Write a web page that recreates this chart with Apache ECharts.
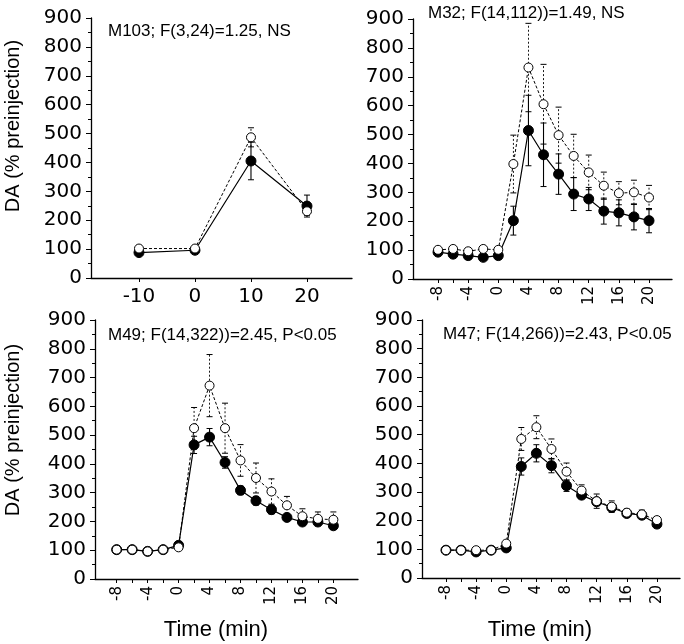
<!DOCTYPE html>
<html><head><meta charset="utf-8">
<script src="https://cdn.jsdelivr.net/npm/echarts@6/dist/echarts.min.js"></script>
<style>html,body{margin:0;padding:0;background:#fff}#c{width:684px;height:644px}</style>
</head><body><div id="c"></div>
<script>
// ---- data ----
const t103 = [-10, 0, 10, 20];
const m103Open = [102, 102, 487, 231];
const m103OpenErr = [6, 6, 33, 14];
const m103Filled = [88, 96, 405, 249];
const m103FilledErr = [5, 5, 65, 38];

const tMin = [-8, -6, -4, -2, 0, 2, 4, 6, 8, 10, 12, 14, 16, 18, 20];
const tickTimes = [-8, -6, -4, -2, 0, 2, 4, 6, 8, 10, 12, 14, 16, 18, 20];
const labelTimes = [-8, -4, 0, 4, 8, 12, 16, 20];
const label103 = [-10, 0, 10, 20];

const m32Open = [101, 104, 96, 104, 101, 398, 732, 605, 498, 426, 369, 323, 297, 300, 282];
const m32OpenErr = [8, 8, 8, 8, 8, 100, 153, 138, 97, 75, 60, 47, 40, 42, 42];
const m32Filled = [93, 86, 81, 75, 81, 202, 514, 430, 363, 294, 277, 235, 229, 215, 202];
const m32FilledErr = [8, 8, 8, 8, 8, 50, 122, 110, 70, 57, 40, 45, 45, 45, 42];

const m49Open = [102, 102, 96, 102, 110, 524, 672, 524, 412, 351, 304, 256, 218, 209, 206];
const m49OpenErr = [5, 5, 5, 5, 5, 72, 108, 87, 55, 52, 44, 31, 26, 24, 27];
const m49Filled = [102, 102, 96, 102, 117, 466, 493, 405, 308, 272, 241, 214, 198, 198, 185];
const m49FilledErr = [5, 5, 5, 5, 8, 30, 30, 20, 15, 15, 15, 10, 10, 10, 10];

const m47Open = [97, 97, 97, 97, 120, 485, 526, 450, 371, 305, 268, 249, 228, 222, 202];
const m47OpenErr = [4, 4, 4, 4, 6, 40, 40, 35, 30, 20, 25, 20, 12, 15, 12];
const m47Filled = [97, 97, 91, 97, 105, 389, 435, 392, 322, 289, 266, 246, 225, 219, 188];
const m47FilledErr = [4, 4, 4, 4, 5, 30, 30, 25, 20, 12, 10, 12, 10, 10, 10];

const yTicks = [0, 100, 200, 300, 400, 500, 600, 700, 800, 900];
const titles = ['M103; F(3,24)=1.25, NS', 'M32; F(14,112))=1.49, NS', 'M49; F(14,322))=2.45, P<0.05', 'M47; F(14,266))=2.43, P<0.05'];
const yName = 'DA (% preinjection)';
const xName = 'Time (min)';

// ---- layout ----
const grids = [
  {left: 91, top: 18, width: 261, height: 260},
  {left: 413, top: 19, width: 259, height: 260},
  {left: 95, top: 320, width: 263, height: 259},
  {left: 422, top: 320, width: 258, height: 258}
];
const xr = [[-18.57, 28.04], [-11.32, 23.05], [-10.8, 23.18], [-11.18, 23.06]];
const panels = [
  {t: t103, o: m103Open, oe: m103OpenErr, f: m103Filled, fe: m103FilledErr},
  {t: tMin, o: m32Open, oe: m32OpenErr, f: m32Filled, fe: m32FilledErr},
  {t: tMin, o: m49Open, oe: m49OpenErr, f: m49Filled, fe: m49FilledErr},
  {t: tMin, o: m47Open, oe: m47OpenErr, f: m47Filled, fe: m47FilledErr}
];

const numFont = '"DejaVu Sans"';
const txtFont = '"Liberation Sans", Arial, sans-serif';

const xAxis = grids.map((g, i) => ({
  type: 'value', gridIndex: i, min: xr[i][0], max: xr[i][1],
  splitLine: {show: false},
  axisLine: {show: true, onZero: false, lineStyle: {color: '#000', width: 1.3}},
  axisTick: {show: true, length: 4, lineStyle: {color: '#000'},
    customValues: i === 0 ? label103 : tickTimes},
  axisLabel: i === 0
    ? {customValues: label103, color: '#000', fontFamily: numFont, fontSize: 20, margin: 9}
    : {customValues: labelTimes, rotate: 90, color: '#000', fontFamily: numFont, fontSize: 15, margin: 7}
}));

const yAxis = grids.map((g, i) => ({
  type: 'value', gridIndex: i, min: 0, max: 900, interval: 100,
  splitLine: {show: false},
  axisLine: {show: true, onZero: false, lineStyle: {color: '#000', width: 1.3}},
  axisTick: {show: true, length: 5, lineStyle: {color: '#000'}},
  minorTick: {show: true, splitNumber: 2, length: 3, lineStyle: {color: '#000'}},
  minorSplitLine: {show: false},
  axisLabel: {color: '#000', fontFamily: numFont, fontSize: 20, margin: 9}
}));

function errRender(dashed) {
  return function (params, api) {
    const x = api.value(0), y = api.value(1), e = api.value(2);
    const lo = api.coord([x, y - e]), hi = api.coord([x, y + e]);
    const w = 3;
    const st = {stroke: '#000', lineWidth: dashed ? 0.9 : 1.1, lineDash: dashed ? [2, 2] : null};
    const cap = {stroke: '#000', lineWidth: 1};
    return {type: 'group', children: [
      {type: 'line', shape: {x1: lo[0], y1: lo[1], x2: hi[0], y2: hi[1]}, style: st},
      {type: 'line', shape: {x1: hi[0] - w, y1: hi[1], x2: hi[0] + w, y2: hi[1]}, style: cap},
      {type: 'line', shape: {x1: lo[0] - w, y1: lo[1], x2: lo[0] + w, y2: lo[1]}, style: cap}
    ]};
  };
}

const series = [];
panels.forEach((p, i) => {
  series.push({
    type: 'custom', xAxisIndex: i, yAxisIndex: i, z: 1, silent: true,
    renderItem: errRender(false),
    data: p.t.map((x, k) => [x, p.f[k], p.fe[k]])
  });
  series.push({
    type: 'custom', xAxisIndex: i, yAxisIndex: i, z: 1, silent: true,
    renderItem: errRender(true),
    data: p.t.map((x, k) => [x, p.o[k], p.oe[k]])
  });
  series.push({
    type: 'line', xAxisIndex: i, yAxisIndex: i, z: 3, silent: true,
    symbol: 'circle', symbolSize: 10,
    itemStyle: {color: '#000', borderColor: '#000', borderWidth: 1},
    lineStyle: {color: '#000', width: 1.2},
    data: p.t.map((x, k) => [x, p.f[k]])
  });
  series.push({
    type: 'line', xAxisIndex: i, yAxisIndex: i, z: 4, silent: true,
    symbol: 'circle', symbolSize: 9,
    itemStyle: {color: '#fff', borderColor: '#000', borderWidth: 1},
    lineStyle: {color: '#000', width: 1, type: [3, 2]},
    data: p.t.map((x, k) => [x, p.o[k]])
  });
});

const titlePos = [[108, 31], [428, 13], [108, 335], [443, 334]];
const graphic = titles.map((t, i) => ({
  type: 'text', x: titlePos[i][0], y: titlePos[i][1],
  style: {text: t, font: '17px ' + txtFont, fill: '#000', textAlign: 'left', textVerticalAlign: 'middle'}
}));
[[13, 126], [13, 430]].forEach(pos => graphic.push({
  type: 'text', x: pos[0], y: pos[1], rotation: Math.PI / 2,
  style: {text: yName, font: '20px ' + txtFont, fill: '#000', textAlign: 'center', textVerticalAlign: 'middle'}
}));
[[216, 630], [540, 630]].forEach(pos => graphic.push({
  type: 'text', x: pos[0], y: pos[1],
  style: {text: xName, font: '22px ' + txtFont, fill: '#000', textAlign: 'center', textVerticalAlign: 'middle'}
}));

const chart = echarts.init(document.getElementById('c'), null, {renderer: 'canvas'});
chart.setOption({
  animation: false,
  backgroundColor: '#fff',
  grid: grids,
  xAxis: xAxis,
  yAxis: yAxis,
  series: series,
  graphic: graphic
});
</script>
</body></html>
